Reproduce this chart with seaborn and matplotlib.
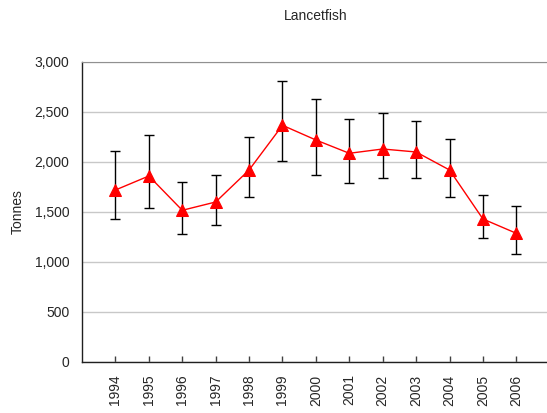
import seaborn as sns
import matplotlib.pyplot as plt
import pandas as pd

years = [1994, 1995, 1996, 1997, 1998, 1999, 2000, 2001, 2002, 2003, 2004, 2005, 2006]
tonnes = [1720, 1860, 1517, 1600, 1920, 2367, 2220, 2087, 2130, 2100, 1920, 1430, 1287]
upper = [2107, 2267, 1803, 1867, 2247, 2813, 2633, 2433, 2487, 2410, 2233, 1673, 1560]
lower = [1430, 1537, 1277, 1370, 1653, 2010, 1867, 1793, 1843, 1843, 1653, 1237, 1077]

df = pd.DataFrame({'year': years, 'tonnes': tonnes, 'upper': upper, 'lower': lower})

sns.set_style('white')
plt.rcParams['font.family'] = ['Liberation Sans', 'DejaVu Sans']

fig = plt.figure(figsize=(5.47, 4.13), dpi=100)
ax = fig.add_axes([0.150, 0.1235, 0.855, 0.7264])

# error bars first, then the line and markers on top
err = [df['tonnes'] - df['lower'], df['upper'] - df['tonnes']]
ax.errorbar(df['year'], df['tonnes'], yerr=err, fmt='none', ecolor='black',
            elinewidth=1, capsize=3.5, capthick=1, zorder=2)
sns.lineplot(data=df, x='year', y='tonnes', color='red', marker='^',
             markersize=8, markeredgecolor='red', linewidth=1, ax=ax, zorder=3)

ax.set_ylim(0, 3000)
ax.set_xlim(1993, 2007)
ax.set_yticks(range(0, 3001, 500))
ax.set_yticklabels([f'{v:,}' for v in range(0, 3001, 500)], fontsize=10)
ax.set_xticks(years)
ax.set_xticklabels([str(y) for y in years], rotation=90, fontsize=10)
ax.yaxis.grid(True, color='#c8c8c8', linewidth=1)
ax.set_axisbelow(True)
ax.tick_params(axis='x', direction='in', length=4, width=1, color='#404040', bottom=True, pad=9)
ax.tick_params(axis='y', length=0, pad=9)

ax.set_xlabel('')
ax.set_ylabel('Tonnes', fontsize=10, labelpad=7)
ax.set_title('Lancetfish', fontsize=10, pad=30)

for s in ['left', 'bottom']:
    ax.spines[s].set_color('#202020')
    ax.spines[s].set_linewidth(1)
ax.spines['top'].set_color('#909090')
ax.spines['right'].set_visible(False)

fig.savefig('out.png', dpi=100)
